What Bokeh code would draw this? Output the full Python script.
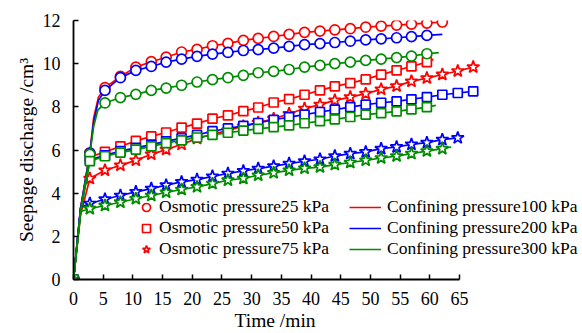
from bokeh.plotting import figure
from bokeh.models import Range1d, Legend, LegendItem, FixedTicker, Title
from bokeh.embed import file_html
from bokeh.resources import INLINE

# ---- data ----
# times (min) at which the markers sit
t_marks = [0, 2.75, 5.3, 7.9, 10.5, 13.1, 15.6, 18.2, 20.8, 23.4, 26.0, 28.6, 31.1, 33.7,
           36.3, 38.9, 41.5, 44.0, 46.6, 49.2, 51.8, 54.4, 56.9, 59.5, 62.1, 64.7, 67.3]

x_ticks = [0, 5, 10, 15, 20, 25, 30, 35, 40, 45, 50, 55, 60, 65]
y_ticks = [0, 2, 4, 6, 8, 10, 12]

# osmotic 25 kPa (circles)
os25_cp100 = [0, 5.87, 8.89, 9.41, 9.84, 10.09, 10.30, 10.54, 10.66, 10.83, 10.94, 11.08, 11.17,
              11.26, 11.36, 11.45, 11.51, 11.57, 11.62, 11.69, 11.74, 11.79, 11.83, 11.88, 11.93]
os25_cp200 = [0, 5.85, 8.76, 9.35, 9.69, 9.87, 10.07, 10.21, 10.34, 10.44, 10.52, 10.61, 10.65,
              10.72, 10.80, 10.88, 10.93, 10.98, 11.04, 11.10, 11.15, 11.20, 11.25, 11.31]
os25_cp300 = [0, 5.80, 8.18, 8.43, 8.58, 8.76, 8.87, 9.00, 9.15, 9.26, 9.35, 9.46, 9.58,
              9.64, 9.73, 9.84, 9.92, 10.00, 10.07, 10.15, 10.21, 10.28, 10.35, 10.46]
# osmotic 50 kPa (squares)
os50_cp100 = [0, 5.68, 5.91, 6.17, 6.42, 6.63, 6.81, 7.04, 7.22, 7.45, 7.60, 7.80, 7.97,
              8.20, 8.36, 8.56, 8.76, 8.95, 9.10, 9.27, 9.49, 9.69, 9.87, 10.07]
os50_cp200 = [0, 5.55, 5.75, 5.95, 6.10, 6.25, 6.40, 6.55, 6.70, 6.87, 7.00, 7.12, 7.25,
              7.40, 7.52, 7.64, 7.76, 7.87, 7.99, 8.10, 8.19, 8.25, 8.35, 8.45, 8.56, 8.64, 8.72]
os50_cp300 = [0, 5.48, 5.71, 5.88, 6.02, 6.17, 6.32, 6.45, 6.58, 6.70, 6.80, 6.90, 6.98,
              7.06, 7.14, 7.24, 7.34, 7.42, 7.53, 7.64, 7.71, 7.79, 7.88, 7.99]
# osmotic 75 kPa (stars)
os75_cp100 = [0, 4.68, 5.06, 5.29, 5.52, 5.80, 6.02, 6.26, 6.53, 6.73, 6.91, 7.10, 7.27,
              7.45, 7.68, 7.92, 8.10, 8.30, 8.45, 8.61, 8.81, 8.96, 9.18, 9.33, 9.50, 9.66, 9.84]
os75_cp200 = [0, 3.52, 3.72, 3.89, 4.06, 4.21, 4.37, 4.52, 4.63, 4.78, 4.91, 5.03, 5.14,
              5.25, 5.37, 5.48, 5.57, 5.72, 5.83, 5.91, 6.06, 6.14, 6.26, 6.34, 6.48, 6.56]
os75_cp300 = [0, 3.28, 3.43, 3.58, 3.74, 3.89, 4.04, 4.17, 4.29, 4.44, 4.60, 4.68, 4.83,
              4.94, 5.06, 5.15, 5.21, 5.32, 5.42, 5.52, 5.63, 5.72, 5.83, 5.95, 6.06]

# unmarked points of the measured curves (early rise and last reading)
extra_t_os25_cp100 = [1.2, 3.4, 4.2]
extra_y_os25_cp100 = [3.3, 7.5, 8.45]
extra_t_os25_cp200 = [1.2, 3.4, 4.2, 62.1]
extra_y_os25_cp200 = [3.3, 7.3, 8.3, 11.36]
extra_t_os25_cp300 = [1.2, 3.4, 4.1, 61.5]
extra_y_os25_cp300 = [3.2, 7.1, 7.85, 10.51]
extra_t_os50_cp100 = [1.2, 60.6]
extra_y_os50_cp100 = [3.3, 10.20]
extra_t_os50_cp200 = [1.2]
extra_y_os50_cp200 = [3.2]
extra_t_os50_cp300 = [1.2, 61.0]
extra_y_os50_cp300 = [3.1, 8.07]
extra_t_os75_cp100 = [1.2]
extra_y_os75_cp100 = [3.0]
extra_t_os75_cp200 = [1.2]
extra_y_os75_cp200 = [3.35]
extra_t_os75_cp300 = [1.2, 63.6]
extra_y_os75_cp300 = [3.15, 6.14]

osmotic_labels = ["Osmotic pressure25 kPa", "Osmotic pressure50 kPa", "Osmotic pressure75 kPa"]
confining_labels = ["Confining pressure100 kPa", "Confining pressure200 kPa", "Confining pressure300 kPa"]

RED, BLUE, GREEN = "#ff0000", "#0000ff", "#008c00"
FONT = "Liberation Serif"

series = [
    (os25_cp100, extra_t_os25_cp100, extra_y_os25_cp100, RED, "circle", 10),
    (os50_cp100, extra_t_os50_cp100, extra_y_os50_cp100, RED, "square", 9),
    (os75_cp100, extra_t_os75_cp100, extra_y_os75_cp100, RED, "star", 13),
    (os25_cp200, extra_t_os25_cp200, extra_y_os25_cp200, BLUE, "circle", 10),
    (os50_cp200, extra_t_os50_cp200, extra_y_os50_cp200, BLUE, "square", 9),
    (os75_cp200, extra_t_os75_cp200, extra_y_os75_cp200, BLUE, "star", 13),
    (os25_cp300, extra_t_os25_cp300, extra_y_os25_cp300, GREEN, "circle", 10),
    (os50_cp300, extra_t_os50_cp300, extra_y_os50_cp300, GREEN, "square", 9),
    (os75_cp300, extra_t_os75_cp300, extra_y_os75_cp300, GREEN, "star", 13),
]

# frame spans to the right page edge so the legend is not clipped
p = figure(width=582, height=333, output_backend="svg", toolbar_location=None,
           x_range=Range1d(0, 85.7), y_range=Range1d(0, 12),
           min_border_left=73, min_border_right=0, min_border_top=20, min_border_bottom=54)
p.outline_line_color = None
p.xgrid.visible = False
p.ygrid.visible = False
p.background_fill_color = "white"
p.border_fill_color = "white"

line_r = []
scat_r = []
for vals, et, ey, color, marker, size in series:
    tm = t_marks[:len(vals)]
    pts = sorted(list(zip(tm, vals)) + list(zip(et, ey)))
    lr = p.line([a for a, b in pts], [b for a, b in pts], line_color=color, line_width=1.7)
    sr = p.scatter(tm, vals, marker=marker, size=size, line_color=color,
                   fill_color="white", line_width=1.7)
    line_r.append(lr)
    scat_r.append(sr)

for ax in (p.xaxis[0], p.yaxis[0]):
    ax.axis_line_width = 1.8
    ax.axis_line_color = "black"
    ax.major_tick_in = 5
    ax.major_tick_out = 0
    ax.major_tick_line_width = 1.5
    ax.minor_tick_line_color = None
    ax.major_label_text_font = FONT
    ax.major_label_text_font_size = "18px"
    ax.major_label_text_color = "black"
    ax.axis_label_text_font = FONT
    ax.axis_label_text_font_size = "19.5px"
    ax.axis_label_text_font_style = "normal"
    ax.axis_label_text_color = "black"

p.xaxis.ticker = FixedTicker(ticks=x_ticks)
p.yaxis.ticker = FixedTicker(ticks=y_ticks)
p.xaxis.bounds = (0, 65)
p.yaxis.bounds = (0, 12)
p.yaxis.axis_label = "Seepage discharge /cm\u00b3"
p.xaxis.major_label_standoff = 12
p.yaxis.major_label_standoff = 13
p.yaxis.axis_label_standoff = 3

# x-axis title, placed under the drawn part of the axis
xtitle = Title(text="Time /min", align="left", offset=161, standoff=1,
               text_font=FONT, text_font_size="19.5px", text_font_style="normal",
               text_color="black")
p.add_layout(xtitle, "below")

common = dict(glyph_height=20, padding=0, spacing=0, label_height=20, margin=0,
              border_line_color=None, background_fill_alpha=0,
              label_text_font=FONT, label_text_font_size="17.5px", label_text_color="black")

left_legend = Legend(
    items=[LegendItem(label=osmotic_labels[i], renderers=[scat_r[i]]) for i in range(3)],
    location=(63, 20), glyph_width=20, label_standoff=3, **common)
right_legend = Legend(
    items=[LegendItem(label=confining_labels[i], renderers=[line_r[3 * i]]) for i in range(3)],
    location=(276, 20), glyph_width=32, label_standoff=6, **common)
p.add_layout(left_legend)
p.add_layout(right_legend)

open("out.html", "w").write(file_html(p, INLINE))
